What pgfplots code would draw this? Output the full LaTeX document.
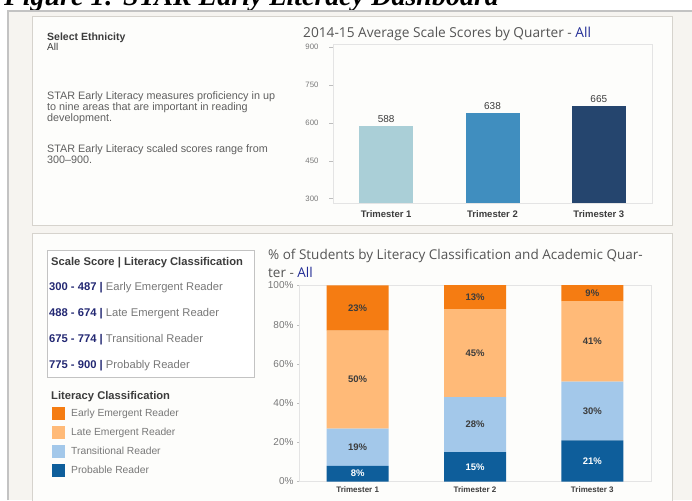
\documentclass[border=0pt]{standalone}
\usepackage{pgfplots}
\usepackage{pgfplotstable}
\pgfplotsset{compat=1.18}
\usepackage{fontspec}
\setmainfont{Liberation Sans}
\newfontfamily\titlefont{Open Sans}
\newfontfamily\capfont{Liberation Serif}
\definecolor{beige}{RGB}{246,244,240}
\definecolor{framegray}{RGB}{195,195,195}
\definecolor{panel}{RGB}{253,253,251}
\definecolor{panelborder}{RGB}{214,211,205}
\definecolor{plotframe}{RGB}{228,228,228}
\definecolor{tickgray}{RGB}{190,190,190}
\definecolor{ticktext}{RGB}{120,120,120}
\definecolor{darktext}{RGB}{60,60,60}
\definecolor{bodytext}{RGB}{95,95,95}
\definecolor{titletext}{RGB}{85,85,85}
\definecolor{allblue}{RGB}{35,45,150}
\definecolor{navy}{RGB}{35,40,115}
\definecolor{tone}{RGB}{170,207,215}
\definecolor{ttwo}{RGB}{64,142,191}
\definecolor{tthree}{RGB}{37,69,110}
\definecolor{cEarly}{RGB}{245,124,18}
\definecolor{cLate}{RGB}{255,186,120}
\definecolor{cTrans}{RGB}{163,200,234}
\definecolor{cProb}{RGB}{14,94,155}

\pgfplotstableread{
x prob trans late early
0 8 19 50 23
1 15 28 45 13
2 21 30 41 9
}\stackdata

\pgfplotsset{
  seglab/.style={draw=none, mark=none, nodes near coords, point meta=explicit symbolic,
    every node near coord/.append style={anchor=center, inner sep=0pt,
      font=\bfseries\fontsize{9.5}{11}\selectfont, text=#1}},
}

\begin{document}
\begin{tikzpicture}[x=1pt,y=1pt]
\useasboundingbox (0,0) rectangle (692,500);
\clip (0,0) rectangle (692,500);
\fill[white] (0,0) rectangle (692,500);
% caption (cut off at the top)
\node[anchor=base west, inner sep=0pt, font=\capfont\bfseries\itshape\fontsize{28}{30}\selectfont] at (4,494) {Figure 1: STAR Early Literacy Dashboard};
\fill[beige] (8,0) rectangle (692,489);
\draw[framegray, line width=1.2pt] (8,0) -- (8,489) -- (692,489);
% panels
\filldraw[fill=panel, draw=panelborder] (32,275) rectangle (672,484);
\filldraw[fill=panel, draw=panelborder] (32,-5) rectangle (672,267);

% top-left text
\node[anchor=base west, inner sep=0pt, font=\bfseries\fontsize{10.5}{12}\selectfont, text=darktext] at (47,459.5) {Select Ethnicity};
\node[anchor=base west, inner sep=0pt, font=\fontsize{10}{12}\selectfont, text=darktext] at (47,449.3) {All};
\begin{scope}[every node/.style={anchor=base west, inner sep=0pt, font=\fontsize{10.8}{12}\selectfont, text=bodytext}]
\node at (47,400) {STAR Early Literacy measures proficiency in up};
\node at (47,389) {to nine areas that are important in reading};
\node at (47,378) {development.};
\node at (47,347) {STAR Early Literacy scaled scores range from};
\node at (47,336) {300–900.};
\end{scope}

% top chart title
\node[anchor=base west, inner sep=0pt, font=\titlefont\fontsize{13.7}{15}\selectfont, text=titletext] at (303,462.7) {2014-15 Average Scale Scores by Quarter - \textcolor{allblue}{All}};

\begin{axis}[
  at={(333pt,297pt)}, anchor=south west, scale only axis,
  width=319pt, height=159pt,
  xmin=-0.5, xmax=2.5, ymin=282, ymax=913,
  axis line style={draw=plotframe},
  xtick={0,1,2}, xticklabels={Trimester 1,Trimester 2,Trimester 3},
  xtick style={draw=none},
  ytick={300,450,600,750,900}, ytick pos=left, tick align=outside,
  major tick length=4pt, ytick style={draw=tickgray},
  yticklabel style={font=\fontsize{7.8}{9}\selectfont, text=ticktext, xshift=-7pt},
  xticklabel style={font=\bfseries\fontsize{9.5}{11}\selectfont, text=darktext},
  /pgf/number format/assume math mode=true,
  ybar, bar width=54pt,
  nodes near coords,
  nodes near coords style={font=\fontsize{10}{12}\selectfont, text=darktext},
]
\addplot[ybar, bar shift=0pt, fill=tone, draw=none] coordinates {(0,588)};
\addplot[ybar, bar shift=0pt, fill=ttwo, draw=none] coordinates {(1,638)};
\addplot[ybar, bar shift=0pt, fill=tthree, draw=none] coordinates {(2,665)};
\end{axis}

% bottom-left box
\draw[draw=framegray, fill=white] (47,123) rectangle (254,250);
\node[anchor=base west, inner sep=0pt, font=\bfseries\fontsize{11.2}{13}\selectfont, text=darktext] at (51,234) {Scale Score | Literacy Classification};
\begin{scope}[every node/.style={anchor=base west, inner sep=0pt, font=\fontsize{11.2}{13}\selectfont, text=ticktext}]
\node at (49,209) {\textcolor{navy}{\bfseries 300 - 487 |} Early Emergent Reader};
\node at (49,183) {\textcolor{navy}{\bfseries 488 - 674 |} Late Emergent Reader};
\node at (49,157) {\textcolor{navy}{\bfseries 675 - 774 |} Transitional Reader};
\node at (49,131) {\textcolor{navy}{\bfseries 775 - 900 |} Probably Reader};
\end{scope}
\node[anchor=base west, inner sep=0pt, font=\bfseries\fontsize{11.2}{13}\selectfont, text=darktext] at (51,100) {Literacy Classification};

% bottom chart title
\node[anchor=base west, inner sep=0pt, font=\titlefont\fontsize{13.5}{15}\selectfont, text=titletext] at (268,240) {\% of Students by Literacy Classification and Academic Quar-};
\node[anchor=base west, inner sep=0pt, font=\titlefont\fontsize{13.5}{15}\selectfont, text=titletext] at (268,222.5) {ter - \textcolor{allblue}{All}};

\begin{axis}[
  at={(299pt,18.5pt)}, anchor=south west, scale only axis,
  width=352pt, height=196pt,
  xmin=-0.5, xmax=2.5, ymin=0, ymax=100,
  axis line style={draw=plotframe},
  xtick={0,1,2}, xticklabels={Trimester 1,Trimester 2,Trimester 3},
  xtick style={draw=none},
  ytick={0,20,40,60,80,100}, ytick pos=left, tick align=outside,
  major tick length=2pt, ytick style={draw=tickgray},
  yticklabel={\pgfmathprintnumber{\tick}\%},
  yticklabel style={font=\fontsize{10}{11}\selectfont, text=ticktext},
  xticklabel style={font=\bfseries\fontsize{8}{10}\selectfont, text=darktext},
  /pgf/number format/assume math mode=true,
  ybar stacked, bar width=62pt,
  legend image code/.code={\fill[#1] (0pt,-6.5pt) rectangle (13pt,6.5pt); \path (17pt,0pt);},
  legend style={at={(-0.7017,0.382)}, anchor=north west, draw=none, fill=none,
    inner sep=0pt, row sep=6pt, font=\fontsize{10.3}{12}\selectfont, text=ticktext},
  legend cell align=left,
  reverse legend,
]
\addplot[draw=none, fill=cProb] table[x=x, y=prob] {\stackdata};
\addlegendentry{Probable Reader}
\addplot[draw=none, fill=cTrans] table[x=x, y=trans] {\stackdata};
\addlegendentry{Transitional Reader}
\addplot[draw=none, fill=cLate] table[x=x, y=late] {\stackdata};
\addlegendentry{Late Emergent Reader}
\addplot[draw=none, fill=cEarly] table[x=x, y=early] {\stackdata};
\addlegendentry{Early Emergent Reader}
\end{axis}

% segment labels at the middle of each segment
\begin{axis}[
  at={(299pt,18.5pt)}, anchor=south west, scale only axis,
  width=352pt, height=196pt,
  xmin=-0.5, xmax=2.5, ymin=0, ymax=100,
  hide axis, clip=false,
]
\addplot[seglab=white] coordinates {(0,4) [8\%] (1,7.5) [15\%] (2,10.5) [21\%]};
\addplot[seglab=darktext] coordinates {(0,17.5) [19\%] (1,29) [28\%] (2,36) [30\%]};
\addplot[seglab=darktext] coordinates {(0,52) [50\%] (1,65.5) [45\%] (2,71.5) [41\%]};
\addplot[seglab=darktext] coordinates {(0,88.5) [23\%] (1,94) [13\%] (2,96) [9\%]};
\end{axis}
\end{tikzpicture}
\end{document}
